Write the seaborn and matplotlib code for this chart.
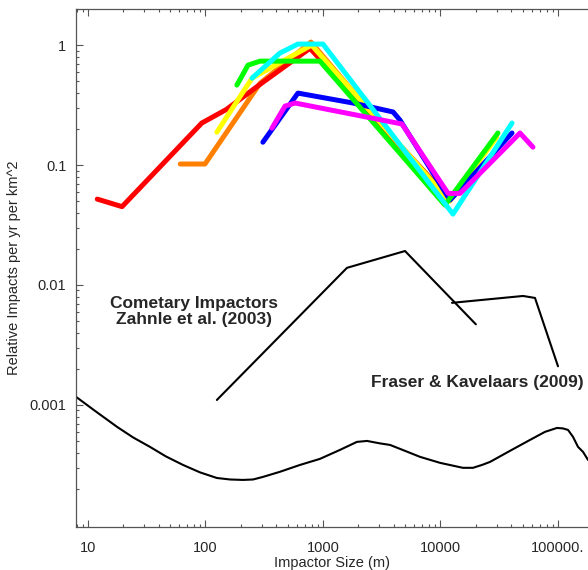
import matplotlib
matplotlib.use("Agg")
import matplotlib.pyplot as plt
import matplotlib.ticker as mticker
import seaborn as sns

# colored size-distribution curves (impactor size in m, relative impacts)
red_x = [12, 19.5, 93, 150, 308, 775, 11600]
red_y = [0.052, 0.045, 0.224, 0.29, 0.49, 0.94, 0.054]

orange_x = [61, 99, 291, 790, 11350]
orange_y = [0.102, 0.102, 0.48, 1.06, 0.049]

yellow_x = [125, 249, 800, 12000, 30000]
yellow_y = [0.188, 0.53, 1.0, 0.05, 0.17]

green_x = [185, 230, 291, 942, 10900, 30800]
green_y = [0.464, 0.68, 0.735, 0.735, 0.0464, 0.185]

blue_x = [308, 612, 1800, 3950, 4520, 12050, 40600]
blue_y = [0.155, 0.398, 0.329, 0.277, 0.237, 0.051, 0.185]

cyan_x = [249, 430, 612, 1000, 12770, 40600]
cyan_y = [0.53, 0.858, 1.02, 1.02, 0.039, 0.224]

magenta_x = [368, 475, 578, 4700, 11600, 14650, 47500, 61200]
magenta_y = [0.203, 0.31, 0.329, 0.22, 0.058, 0.058, 0.185, 0.141]

# black model curves
zahnle_x = [125, 1600, 4990, 20000]
zahnle_y = [0.0011, 0.0139, 0.0192, 0.0047]

fraser_x = [12530, 50400, 63700, 100000]
fraser_y = [0.0071, 0.0081, 0.0078, 0.0021]

smooth_x = [7.9, 11.5, 17.7, 24.2, 33.7, 46.1, 64.4, 89.8, 125, 162, 208,
            254, 308, 430, 637, 942, 1396, 1945, 2370, 3055, 3720, 4990,
            6700, 9910, 15500, 18900, 22560, 26400, 39000, 57800, 77400,
            98000, 110300, 121700, 134300, 148000, 163300, 180000]
smooth_y = [0.00117, 0.000891, 0.000656, 0.000536, 0.000447, 0.000372,
            0.000316, 0.000274, 0.000246, 0.000239, 0.000237, 0.000239,
            0.000251, 0.000277, 0.000316, 0.000355, 0.000422, 0.000492,
            0.000501, 0.000478, 0.000464, 0.000414, 0.000369, 0.000329,
            0.000299, 0.000299, 0.000316, 0.000335, 0.000414, 0.000511,
            0.000596, 0.000643, 0.000637, 0.000619, 0.000541, 0.000447,
            0.000406, 0.000348]

xtick_vals = [10, 100, 1000, 10000, 100000]
xtick_labels = ["10", "100", "1000", "10000", "100000."]
ytick_vals = [0.001, 0.01, 0.1, 1]
ytick_labels = ["0.001", "0.01", "0.1", "1"]

sns.set_style("ticks")
plt.rcParams['font.family'] = ['Liberation Sans', 'DejaVu Sans']

fig = plt.figure(figsize=(5.88, 5.7), dpi=100)
ax = fig.add_axes([76/588, 43/570, 512/588, 518/570])
ax.set_xscale('log')
ax.set_yscale('log')

colored = [(orange_x, orange_y, '#ff8000'),
           (red_x, red_y, '#ff0000'),
           (yellow_x, yellow_y, '#ffff00'),
           (blue_x, blue_y, '#0000ff'),
           (green_x, green_y, '#00ff00'),
           (cyan_x, cyan_y, '#00ffff'),
           (magenta_x, magenta_y, '#ff00ff')]
for xs, ys, c in colored:
    sns.lineplot(x=xs, y=ys, color=c, lw=3.6, sort=False, estimator=None, ax=ax)

for xs, ys in [(zahnle_x, zahnle_y), (fraser_x, fraser_y), (smooth_x, smooth_y)]:
    sns.lineplot(x=xs, y=ys, color='black', lw=1.5, sort=False, estimator=None, ax=ax)

ax.set_xlim(7.91, 180000)
ax.set_ylim(9.6e-5, 2.0)

ax.xaxis.set_major_locator(mticker.FixedLocator(xtick_vals))
ax.xaxis.set_major_formatter(mticker.FixedFormatter(xtick_labels))
ax.yaxis.set_major_locator(mticker.FixedLocator(ytick_vals))
ax.yaxis.set_major_formatter(mticker.FixedFormatter(ytick_labels))
ax.xaxis.set_minor_locator(mticker.LogLocator(base=10, subs=range(2, 10), numticks=20))
ax.yaxis.set_minor_locator(mticker.LogLocator(base=10, subs=range(2, 10), numticks=20))
ax.xaxis.set_minor_formatter(mticker.NullFormatter())
ax.yaxis.set_minor_formatter(mticker.NullFormatter())

ax.tick_params(which='both', direction='in', top=True, right=False, color='#555555', width=0.8)
ax.tick_params(which='major', length=5, labelsize=10.5)
ax.tick_params(which='minor', length=2.5)
ax.tick_params(axis='x', which='major', pad=10)
ax.tick_params(axis='y', which='major', pad=7)

for side in ['left', 'bottom', 'top']:
    ax.spines[side].set_color('#555555')
    ax.spines[side].set_linewidth(0.9)
ax.spines['right'].set_visible(False)

ax.set_xlabel("Impactor Size (m)", fontsize=10.5, labelpad=1)
ax.set_ylabel("Relative Impacts per yr per km^2", fontsize=10.5, labelpad=6)

ax.text(80, 0.006, "Cometary Impactors\nZahnle et al. (2003)", ha='center', va='center',
        fontsize=12.5, fontweight='bold', linespacing=1.15)
ax.text(20470, 0.00153, "Fraser & Kavelaars (2009)", ha='center', va='center',
        fontsize=12.5, fontweight='bold')

fig.savefig("out.png", dpi=100)
